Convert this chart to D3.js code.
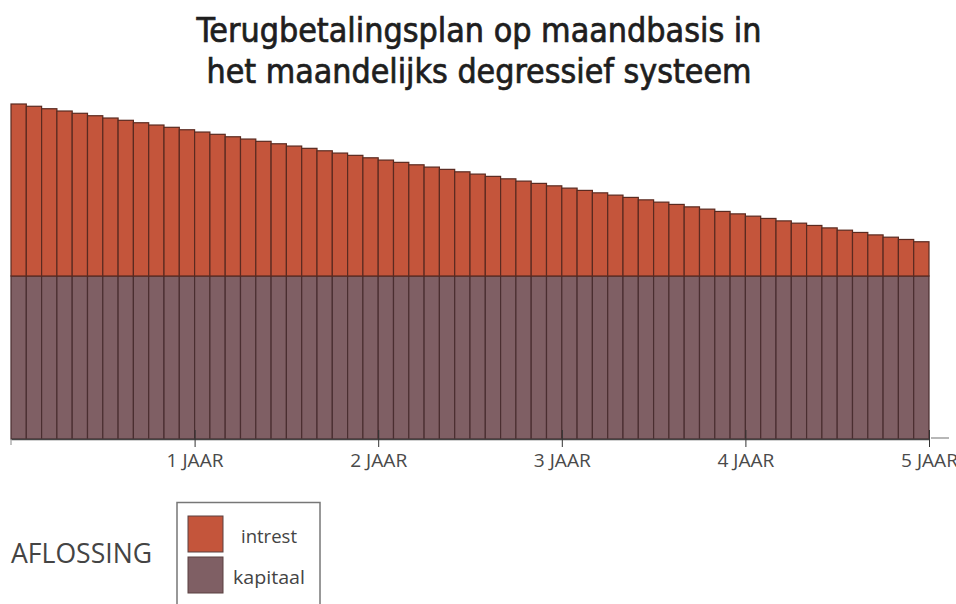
<!DOCTYPE html>
<html><head><meta charset="utf-8">
<script src="https://cdn.jsdelivr.net/npm/d3@7"></script>
<style>
body{margin:0;background:#fff;}
svg{display:block;}
</style></head>
<body>
<svg id="chart" width="956" height="604"></svg>
<script>
const titleLines = ["Terugbetalingsplan op maandbasis in", "het maandelijks degressief systeem"];
const months = d3.range(1, 61);
const kapitaal = [100,100,100,100,100,100,100,100,100,100,100,100,100,100,100,100,100,100,100,100,
                  100,100,100,100,100,100,100,100,100,100,100,100,100,100,100,100,100,100,100,100,
                  100,100,100,100,100,100,100,100,100,100,100,100,100,100,100,100,100,100,100,100];
const intrest = [105.5,104.1,102.6,101.2,99.8,98.3,96.9,95.5,94.0,92.6,91.2,89.7,
                 88.3,86.9,85.4,84.0,82.6,81.1,79.7,78.3,76.8,75.4,74.0,72.5,
                 71.1,69.7,68.2,66.8,65.4,63.9,62.5,61.1,59.6,58.2,56.8,55.3,
                 53.9,52.5,51.0,49.6,48.2,46.7,45.3,43.9,42.4,41.0,39.6,38.1,
                 36.7,35.3,33.8,32.4,31.0,29.5,28.1,26.7,25.2,23.8,22.4,21.0];
const years = [1, 2, 3, 4, 5];
const yearLabels = ["1 JAAR", "2 JAAR", "3 JAAR", "4 JAAR", "5 JAAR"];
const legendItems = ["intrest", "kapitaal"];
const colors = {intrest: "#c4553b", kapitaal: "#7f5f64"};

const svg = d3.select("#chart");
const plotLeft = 11, plotRight = 929, plotBottom = 439, plotTop = 104;

const x = d3.scaleBand().domain(months).range([plotLeft, plotRight]).padding(0);
const xYear = d3.scaleLinear().domain([0, 5]).range([plotLeft, plotRight]);
const y = d3.scaleLinear().domain([0, 205.5]).range([plotBottom, plotTop]);

// title
const titleWidths = [565, 545];
svg.append("g").selectAll("text").data(titleLines).join("text")
  .attr("x", 479).attr("y", (d, i) => 42 + i * 41)
  .attr("text-anchor", "middle")
  .attr("font-family", "DejaVu Sans Condensed, DejaVu Sans, sans-serif")
  .attr("font-stretch", "condensed")
  .attr("font-size", 34).attr("fill", "#1e1e1e")
  .attr("stroke", "#1e1e1e").attr("stroke-width", 0.7)
  .attr("textLength", (d, i) => titleWidths[i]).attr("lengthAdjust", "spacingAndGlyphs")
  .text(d => d);

const data = months.map((m, i) => ({m, k: kapitaal[i], r: intrest[i]}));

// kapitaal bars
svg.append("g").selectAll("rect").data(data).join("rect")
  .attr("x", d => x(d.m)).attr("width", x.bandwidth())
  .attr("y", d => y(d.k)).attr("height", d => y(0) - y(d.k))
  .attr("fill", colors.kapitaal).attr("stroke", "#4a2e30").attr("stroke-width", 1.2);

// intrest bars
svg.append("g").selectAll("rect").data(data).join("rect")
  .attr("x", d => x(d.m)).attr("width", x.bandwidth())
  .attr("y", d => y(d.k + d.r)).attr("height", d => y(d.k) - y(d.k + d.r))
  .attr("fill", colors.intrest).attr("stroke", "#5a2a20").attr("stroke-width", 1.2);

// axis
const axis = d3.axisBottom(xYear).tickValues(years)
  .tickFormat((d, i) => yearLabels[i]).tickSize(8).tickSizeOuter(0);
const ag = svg.append("g").attr("transform", `translate(0,${plotBottom})`).call(axis);
ag.select(".domain").attr("stroke", "#444").attr("stroke-width", 1.5);
ag.selectAll(".tick line").attr("stroke", "#333").attr("y1", -9).attr("y2", 8);
ag.selectAll(".tick text").attr("dy", 0).attr("y", 28)
  .attr("font-family", "Open Sans, sans-serif").attr("font-size", 18)
  .attr("fill", "#4a4a4a")
  .attr("textLength", 57).attr("lengthAdjust", "spacingAndGlyphs");
svg.append("line").attr("x1", plotLeft).attr("x2", plotLeft).attr("y1", plotBottom).attr("y2", plotBottom + 6)
  .attr("stroke", "#888");
svg.append("line").attr("x1", plotRight + 2).attr("x2", plotRight + 20).attr("y1", plotBottom - 1).attr("y2", plotBottom - 1)
  .attr("stroke", "#888").attr("stroke-width", 1.2);

// legend
svg.append("text").attr("x", 11).attr("y", 563)
  .attr("font-family", "Open Sans, sans-serif").attr("font-size", 28)
  .attr("fill", "#444").attr("textLength", 141).attr("lengthAdjust", "spacingAndGlyphs")
  .text("AFLOSSING");
svg.append("rect").attr("x", 177).attr("y", 502.5).attr("width", 143).attr("height", 110)
  .attr("fill", "none").attr("stroke", "#777").attr("stroke-width", 1.5);
const legendWidths = [56, 72];
const lg = svg.append("g").selectAll("g").data(legendItems).join("g")
  .attr("transform", (d, i) => `translate(188,${516 + i * 41})`);
lg.append("rect").attr("width", 35).attr("height", 36)
  .attr("fill", d => colors[d]).attr("stroke", "#5a4040").attr("stroke-width", 1);
lg.append("text").attr("x", 81).attr("y", 27)
  .attr("text-anchor", "middle")
  .attr("font-family", "Open Sans, sans-serif").attr("font-size", 18)
  .attr("fill", "#444")
  .attr("textLength", (d, i) => legendWidths[i]).attr("lengthAdjust", "spacingAndGlyphs")
  .text(d => d);
</script>
</body></html>
